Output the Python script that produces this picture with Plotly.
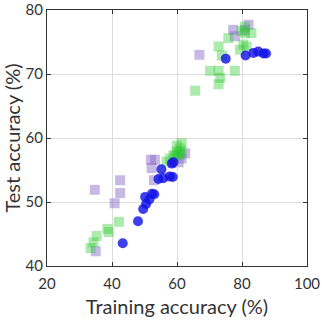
import plotly.graph_objects as go

blue_x = [43.3, 48.0, 49.6, 50.5, 50.2, 51.5, 52.3, 53.0, 55.2, 54.3, 55.8, 57.8, 58.7, 58.9, 58.4,
          75.0, 81.1, 83.5, 85.0, 86.6, 87.4]
blue_y = [43.55, 47.0, 48.9, 49.7, 50.8, 50.4, 51.3, 51.2, 55.1, 53.6, 53.7, 54.0, 53.9, 56.2, 56.0,
          72.4, 72.9, 73.3, 73.5, 73.2, 73.2]

purple_x = [34.7, 35.0, 40.8, 42.5, 42.5, 52.0, 53.2, 52.2, 52.9, 62.5, 61.4, 60.5,
            66.9, 77.3, 77.8, 82.0, 80.9]
purple_y = [51.9, 42.3, 49.8, 53.4, 51.4, 56.6, 56.6, 55.3, 53.4, 57.6, 56.8, 56.2,
            73.0, 76.9, 75.9, 77.7, 76.9]

green_x = [33.4, 34.3, 35.3, 38.6, 39.0, 42.1,
           56.8, 57.8, 58.9, 59.9, 60.9, 61.4, 60.4, 59.4, 60.9, 61.4, 60.0,
           65.6, 70.2, 72.8, 72.8, 73.3, 72.8, 73.8, 77.8, 75.8, 79.4, 80.4, 81.4,
           79.9, 80.9, 82.9, 80.9]
green_y = [42.8, 43.7, 44.7, 45.8, 45.3, 46.9,
           56.3, 56.8, 57.3, 57.9, 58.4, 59.2, 57.6, 57.2, 57.4, 57.9, 58.8,
           67.4, 70.5, 70.5, 68.4, 69.4, 74.3, 72.9, 70.5, 75.6, 73.8, 74.6, 74.3,
           76.7, 76.4, 76.4, 77.4]

x_ticks = [20, 40, 60, 80, 100]
y_ticks = [40, 50, 60, 70, 80]

FONT = "Lato"
TXT = "#333333"

fig = go.Figure()
fig.add_trace(go.Scatter(x=purple_x, y=purple_y, mode="markers",
                         marker=dict(symbol="square", size=10, color="rgba(130,100,200,0.45)",
                                     line=dict(width=0))))
fig.add_trace(go.Scatter(x=green_x, y=green_y, mode="markers",
                         marker=dict(symbol="square", size=10, color="rgba(40,200,40,0.38)",
                                     line=dict(width=0))))
fig.add_trace(go.Scatter(x=blue_x, y=blue_y, mode="markers",
                         marker=dict(symbol="circle", size=10, color="rgba(20,20,230,0.82)",
                                     line=dict(width=0))))

axis_common = dict(showline=True, linecolor=TXT, linewidth=1, mirror="ticks",
                   ticks="inside", ticklen=4, tickcolor=TXT,
                   showgrid=True, gridcolor="#dddddd", gridwidth=1, zeroline=False,
                   automargin=False, ticklabeloverflow="allow",
                   tickfont=dict(family=FONT, size=15, color=TXT))

fig.update_xaxes(range=[20, 100], tickvals=x_ticks, ticklabelstandoff=4,
                 title=dict(text="Training accuracy (%)", font=dict(family=FONT, size=20, color=TXT),
                            standoff=8),
                 **axis_common)
fig.update_yaxes(range=[40, 80], tickvals=y_ticks,
                 title=dict(text="Test accuracy (%)", font=dict(family=FONT, size=20, color=TXT),
                            standoff=7),
                 **axis_common)

fig.update_layout(width=322, height=324, showlegend=False,
                  margin=dict(l=47, r=15, t=10, b=58),
                  plot_bgcolor="white", paper_bgcolor="white")

fig.write_html("out.html", config={"displayModeBar": False},
               post_script="document.body.style.margin='0';document.body.style.overflow='hidden';")
